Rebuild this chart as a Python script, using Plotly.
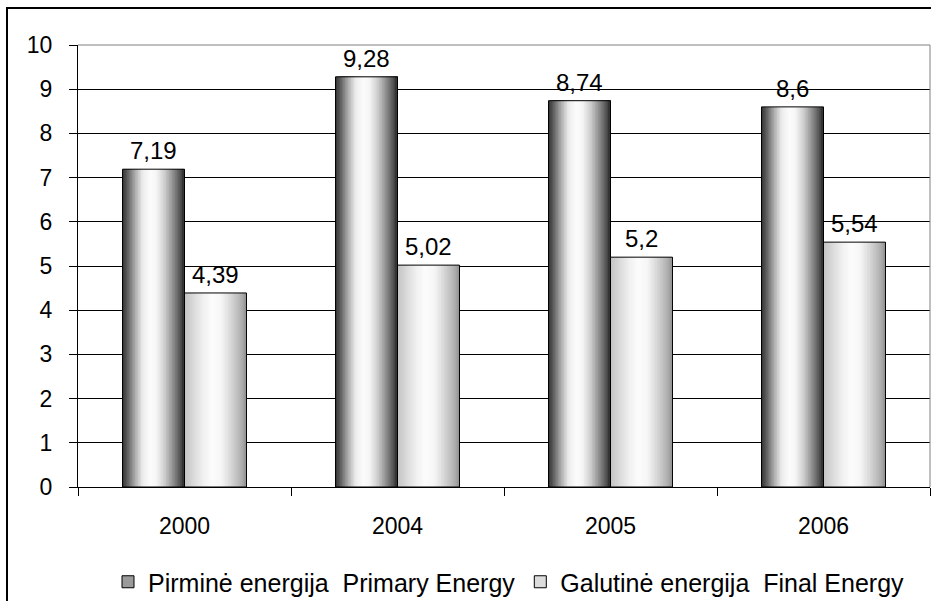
import numpy as np
import plotly.graph_objects as go

# Energy figures per year
years = ["2000", "2004", "2005", "2006"]
primary_energy = [7.19, 9.28, 8.74, 8.6]
final_energy = [4.39, 5.02, 5.2, 5.54]
series_names = ["Pirminė energija\u00a0 Primary Energy",
                "Galutinė energija\u00a0 Final Energy"]

FONT = "Liberation Sans, Arial, sans-serif"
TICK_FS = 23
LABEL_FS = 24
LEGEND_FS = 25
BAR_W = 0.291         # width of one bar in category units
N_STRIPS = 40         # vertical strips used to fake the cylinder shading

# plot area in pixels
L, R, T, B = 78, 1, 45, 114
W, H = 931, 601
PW, PH = W - L - R, H - T - B

# grey level along the bar width (0 = left edge, 1 = right edge)
shade_primary = ([0, 0.08, 0.2, 0.32, 0.45, 0.55, 0.68, 0.8, 0.9, 1.0],
                 [50, 95, 170, 235, 252, 245, 205, 150, 100, 45])
shade_final = ([0, 0.15, 0.3, 0.45, 0.6, 0.75, 0.9, 1.0],
               [195, 218, 240, 252, 245, 215, 180, 150])


def gray(v):
    v = int(round(v))
    return f"rgb({v},{v},{v})"


fig = go.Figure()


def add_shaded_bars(values, base_offset, shade):
    ts, levels = shade
    step = BAR_W / N_STRIPS
    for i in range(N_STRIPS):
        t = (i + 0.5) / N_STRIPS
        # each strip runs to the right edge, later strips paint over earlier ones
        fig.add_trace(go.Bar(
            x=years, y=values,
            offset=base_offset + i * step, width=BAR_W - i * step,
            marker=dict(color=gray(np.interp(t, ts, levels)), line=dict(width=0)),
            showlegend=False, hoverinfo="skip",
        ))
    # black outline on top
    fig.add_trace(go.Bar(
        x=years, y=values, offset=base_offset, width=BAR_W,
        marker=dict(color="rgba(0,0,0,0)", line=dict(color="black", width=1)),
        showlegend=False, hoverinfo="skip",
    ))


add_shaded_bars(primary_energy, -BAR_W, shade_primary)
add_shaded_bars(final_energy, 0.0, shade_final)

# legend entries
for name, fill in zip(series_names, ["#9a9a9a", "#dcdcdc"]):
    fig.add_trace(go.Bar(
        x=[years[0]], y=[None], name=name,
        marker=dict(color=fill, line=dict(color="black", width=1)),
    ))

# value labels above the bars (comma as decimal separator)
bar_px = BAR_W * PW / len(years)
annotations = []
for values, shift in [(primary_energy, -bar_px / 2), (final_energy, bar_px / 2)]:
    for idx, v in enumerate(values):
        annotations.append(dict(
            x=idx, y=v, xref="x", yref="y", text=f"{v}".replace(".", ","),
            showarrow=False, xanchor="center", yanchor="bottom",
            xshift=shift, yshift=3, font=dict(family=FONT, size=LABEL_FS, color="black"),
        ))

shapes = [
    # plot area border (top and right, grey)
    dict(type="line", xref="paper", yref="paper", x0=0, x1=1, y0=1, y1=1,
         line=dict(color="#808080", width=1)),
    dict(type="line", xref="paper", yref="paper", x0=1, x1=1, y0=0, y1=1,
         line=dict(color="#808080", width=1)),
    # outer chart frame
    dict(type="rect", xref="paper", yref="paper",
         x0=(7 - L) / PW, x1=1.02, y0=-0.35, y1=(H - B - 8) / PH,
         line=dict(color="black", width=2), fillcolor="rgba(0,0,0,0)"),
]

fig.update_layout(
    width=W, height=H,
    margin=dict(l=L, r=R, t=T, b=B, autoexpand=False),
    paper_bgcolor="white", plot_bgcolor="white",
    barmode="overlay",
    font=dict(family=FONT, size=TICK_FS, color="black"),
    showlegend=True,
    legend=dict(orientation="h", x=(509 - L) / PW, xanchor="center",
                y=(H - B - 582) / PH, yanchor="middle",
                font=dict(family=FONT, size=LEGEND_FS, color="black"),
                traceorder="normal"),
    annotations=annotations,
    shapes=shapes,
)

fig.update_xaxes(
    type="category", categoryorder="array", categoryarray=years,
    range=[-0.5, len(years) - 0.5], autorange=False, automargin=False,
    tickson="boundaries", ticks="outside", ticklen=8, tickcolor="black", tickwidth=1,
    showline=True, linecolor="black", linewidth=1, showgrid=False, tickangle=0,
    ticklabelstandoff=18, tickfont=dict(family=FONT, size=TICK_FS, color="black"),
)
fig.update_yaxes(
    range=[0, 10], autorange=False, dtick=1, tick0=0, automargin=False,
    ticks="outside", ticklen=8, tickcolor="black", tickwidth=1,
    showline=True, linecolor="black", linewidth=1,
    showgrid=True, gridcolor="black", gridwidth=1, zeroline=False,
    ticklabelstandoff=12, tickfont=dict(family=FONT, size=TICK_FS, color="black"),
)

fig.write_html("out.html")
